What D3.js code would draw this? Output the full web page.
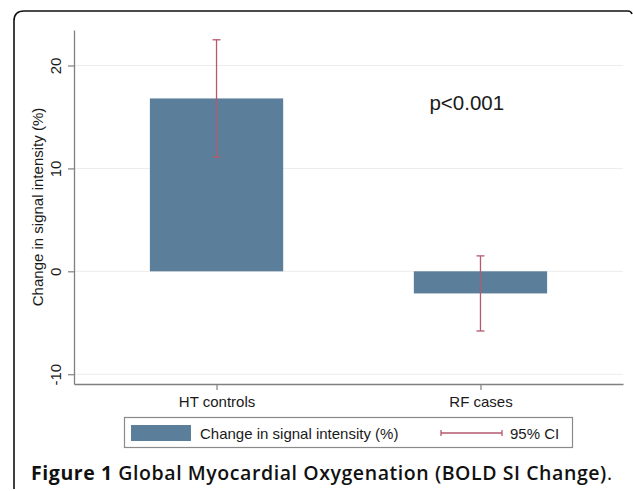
<!DOCTYPE html>
<html>
<head>
<meta charset="utf-8">
<script src="https://cdn.jsdelivr.net/npm/d3@7"></script>
<style>
  body { margin: 0; background: #fff; }
  svg { display: block; }
</style>
</head>
<body>
<svg></svg>
<script>
// data
var groups = ["HT controls", "RF cases"];
var means = [16.8, -2.15];
var ciLow = [11.1, -5.8];
var ciHigh = [22.5, 1.5];
var yTicks = [-10, 0, 10, 20];
var pLabel = "p<0.001";

var width = 633, height = 491;
var svg = d3.select("svg")
    .attr("width", width)
    .attr("height", height);

var plot = {left: 74, right: 623, top: 30, bottom: 384};
var font = "Liberation Sans, Arial, sans-serif";

// outer frame, rounded at top left, cut off at right and bottom
svg.append("path")
    .attr("d", "M14,489 L14,21 Q14,11 24,11 L628,11 Q631,11 632,14")
    .attr("fill", "none")
    .attr("stroke", "#111")
    .attr("stroke-width", 1.6);

var y = d3.scaleLinear()
    .domain([-10.95, 23.45])
    .range([plot.bottom, plot.top]);

var x = d3.scalePoint()
    .domain(groups)
    .range([plot.left, plot.right])
    .padding(0.54);

var barW = x.step() * 0.505;

// gridlines
svg.append("g")
  .selectAll("line")
  .data(yTicks)
  .enter()
  .append("line")
    .attr("x1", plot.left)
    .attr("x2", plot.right)
    .attr("y1", function(d) { return y(d); })
    .attr("y2", function(d) { return y(d); })
    .attr("stroke", "#ececec")
    .attr("stroke-width", 1);

// bars
svg.append("g")
  .selectAll("rect")
  .data(groups)
  .enter()
  .append("rect")
    .attr("x", function(d) { return x(d) - barW / 2; })
    .attr("width", barW)
    .attr("y", function(d, i) { return y(Math.max(0, means[i])); })
    .attr("height", function(d, i) { return Math.abs(y(means[i]) - y(0)); })
    .attr("fill", "#5b7e9b");

// confidence intervals
var ci = svg.append("g")
    .attr("stroke", "#b5596d")
    .attr("stroke-width", 1.3);
groups.forEach(function(g, i) {
  var cx = x(g);
  ci.append("line").attr("x1", cx).attr("x2", cx)
      .attr("y1", y(ciLow[i])).attr("y2", y(ciHigh[i]));
  [ciLow[i], ciHigh[i]].forEach(function(v) {
    ci.append("line").attr("x1", cx - 4).attr("x2", cx + 4)
        .attr("y1", y(v)).attr("y2", y(v));
  });
});

// y axis
var yAxis = svg.append("g")
    .attr("transform", "translate(" + plot.left + ",0)")
    .call(d3.axisLeft(y).tickValues(yTicks).tickSize(6).tickSizeOuter(0)
      .tickFormat(function(d) { return String(d); }));
yAxis.select(".domain").attr("stroke", "#808080").attr("stroke-width", 1.3);
yAxis.selectAll(".tick line").attr("stroke", "#808080").attr("stroke-width", 1.2);
yAxis.selectAll(".tick text")
    .attr("font-family", font)
    .attr("font-size", 15)
    .attr("fill", "#1a1a1a")
    .attr("x", null)
    .attr("dy", null)
    .attr("text-anchor", "middle")
    .attr("transform", "translate(-13,0) rotate(-90)");

// x axis
var xAxis = svg.append("g")
    .attr("transform", "translate(0," + plot.bottom + ")")
    .call(d3.axisBottom(x).tickSize(6).tickSizeOuter(0));
xAxis.select(".domain").attr("stroke", "#808080").attr("stroke-width", 1.3);
xAxis.selectAll(".tick line").attr("stroke", "#808080").attr("stroke-width", 1.2);
xAxis.selectAll(".tick text")
    .attr("font-family", font)
    .attr("font-size", 15)
    .attr("fill", "#1a1a1a")
    .attr("y", 12);

// y axis title
svg.append("text")
    .attr("transform", "translate(43," + (plot.top + plot.bottom) / 2 + ") rotate(-90)")
    .attr("text-anchor", "middle")
    .attr("font-family", font)
    .attr("font-size", 15)
    .attr("fill", "#1a1a1a")
    .text("Change in signal intensity (%)");

// p value annotation
svg.append("text")
    .attr("x", x(groups[1]) - 51)
    .attr("y", y(15.65))
    .attr("font-family", font)
    .attr("font-size", 20.5)
    .attr("fill", "#1a1a1a")
    .text(pLabel);

// legend
var leg = svg.append("g");
leg.append("rect")
    .attr("x", 124.5).attr("y", 417.5)
    .attr("width", 448).attr("height", 30)
    .attr("fill", "#fff")
    .attr("stroke", "#8a8a8a")
    .attr("stroke-width", 1.2);
leg.append("rect")
    .attr("x", 131).attr("y", 425)
    .attr("width", 60).attr("height", 16)
    .attr("fill", "#5b7e9b");
leg.append("text")
    .attr("x", 200).attr("y", 438.5)
    .attr("font-family", font)
    .attr("font-size", 15)
    .attr("fill", "#1a1a1a")
    .text("Change in signal intensity (%)");
var legCi = leg.append("g")
    .attr("stroke", "#b5596d")
    .attr("stroke-width", 1.3);
legCi.append("line").attr("x1", 441).attr("x2", 502).attr("y1", 433).attr("y2", 433);
legCi.append("line").attr("x1", 441).attr("x2", 441).attr("y1", 430).attr("y2", 436);
legCi.append("line").attr("x1", 502).attr("x2", 502).attr("y1", 430).attr("y2", 436);
leg.append("text")
    .attr("x", 510).attr("y", 438.5)
    .attr("font-family", font)
    .attr("font-size", 15)
    .attr("fill", "#1a1a1a")
    .text("95% CI");

// caption
var cap = svg.append("text")
    .attr("x", 31).attr("y", 480)
    .attr("font-family", "Open Sans, Noto Sans, sans-serif")
    .attr("font-size", 19.5)
    .attr("fill", "#111")
    .attr("textLength", 581)
    .attr("lengthAdjust", "spacing");
cap.append("tspan").attr("font-weight", "bold").text("Figure 1 ");
cap.append("tspan").attr("font-weight", 600).text("Global Myocardial Oxygenation (BOLD SI Change)");
cap.append("tspan").attr("font-weight", "normal").text(".");
</script>
</body>
</html>
